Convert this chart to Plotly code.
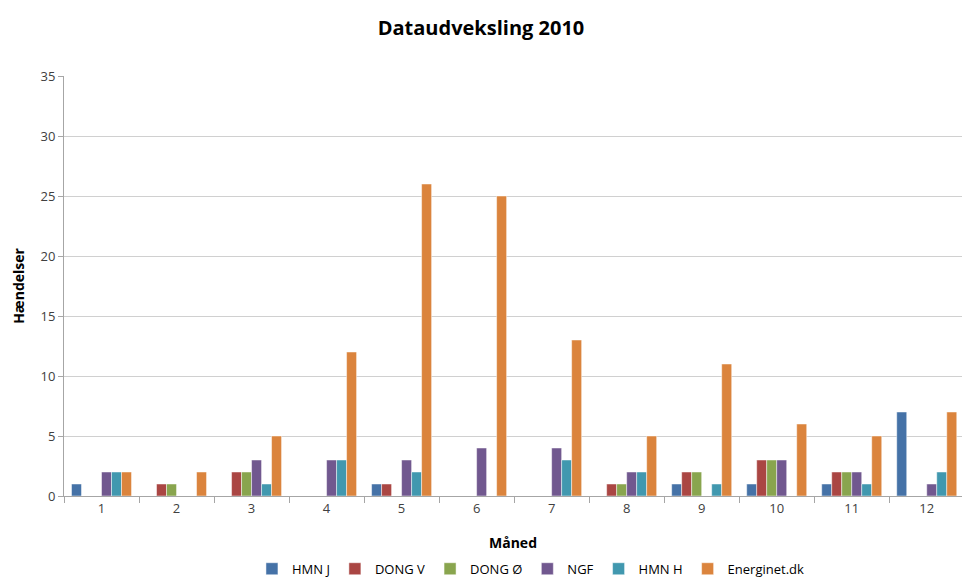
import plotly.graph_objects as go

months = ["1", "2", "3", "4", "5", "6", "7", "8", "9", "10", "11", "12"]
hmn_j = [1, 0, 0, 0, 1, 0, 0, 0, 1, 1, 1, 7]
dong_v = [0, 1, 2, 0, 1, 0, 0, 1, 2, 3, 2, 0]
dong_oe = [0, 1, 2, 0, 0, 0, 0, 1, 2, 3, 2, 0]
ngf = [2, 0, 3, 3, 3, 4, 4, 2, 0, 3, 2, 1]
hmn_h = [2, 0, 1, 3, 2, 0, 3, 2, 1, 0, 1, 2]
energinet = [2, 2, 5, 12, 26, 25, 13, 5, 11, 6, 5, 7]

series = [
    ("HMN J", hmn_j, "#4572A7"),
    ("DONG V", dong_v, "#AA4643"),
    ("DONG Ø", dong_oe, "#89A54E"),
    ("NGF", ngf, "#71588F"),
    ("HMN H", hmn_h, "#4198AF"),
    ("Energinet.dk", energinet, "#DB843D"),
]

fig = go.Figure()
for name, vals, col in series:
    fig.add_trace(go.Bar(
        x=months, y=vals, name=name,
        marker=dict(color=col, line=dict(color="rgba(255,255,255,0.6)", width=0.8)),
    ))

font_family = "Open Sans, Liberation Sans, sans-serif"
fig.update_layout(
    width=962, height=581,
    barmode="group", bargap=0.2, bargroupgap=0,
    plot_bgcolor="white", paper_bgcolor="white",
    margin=dict(l=64, r=0, t=76, b=85, autoexpand=False),
    font=dict(family=font_family, size=13, color="#404040"),
    title=dict(text="<b>Dataudveksling 2010</b>", x=0.5, xanchor="center",
               y=0.952, yanchor="middle",
               font=dict(family=font_family, size=20, color="#000000")),
    legend=dict(orientation="h", x=0.52, xanchor="center",
                yref="container", y=0.021, yanchor="middle",
                font=dict(family=font_family, size=13, color="#000000"),
                itemwidth=30, tracegroupgap=0, traceorder="normal"),
    showlegend=True,
)
fig.update_xaxes(
    type="category", range=[-0.5, 11.47],
    showline=True, linecolor="#A6A6A6", linewidth=1,
    ticks="outside", tickson="boundaries", ticklen=6, tickcolor="#A6A6A6",
    showgrid=False, automargin=False,
    tickfont=dict(size=13, color="#404040"),
    title=dict(text="<b>Måned</b>", font=dict(size=14, color="#000000"), standoff=22),
)
fig.update_yaxes(
    range=[0, 35], dtick=5,
    showline=True, linecolor="#A6A6A6", linewidth=1,
    ticks="outside", ticklen=5, tickcolor="#A6A6A6",
    showgrid=True, gridcolor="#D0D0D0", gridwidth=1,
    zeroline=False, automargin=False,
    tickfont=dict(size=13, color="#404040"),
    title=dict(text="<b>Hændelser</b>", font=dict(size=14, color="#000000"), standoff=12),
)

fig.write_html("out.html")
